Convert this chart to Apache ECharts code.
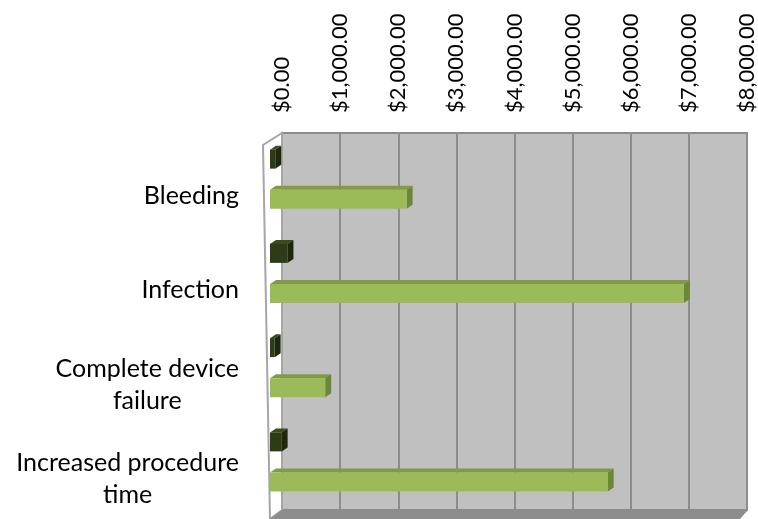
<!DOCTYPE html>
<html>
<head>
<meta charset="utf-8">
<title>Complication cost</title>
<script src="https://cdn.jsdelivr.net/npm/echarts@6/dist/echarts.min.js"></script>
<style>
    html, body { margin: 0; padding: 0; background: #fff; }
    #chart { width: 758px; height: 519px; }
</style>
</head>
<body>
<div id="chart"></div>
<script>
var categories = ['Bleeding', 'Infection', 'Complete device\nfailure', 'Increased procedure\ntime'];
var darkValues = [90, 300, 80, 200];
var lightValues = [2350, 7120, 950, 5810];
var tickLabels = ['$0.00', '$1,000.00', '$2,000.00', '$3,000.00', '$4,000.00',
    '$5,000.00', '$6,000.00', '$7,000.00', '$8,000.00'];

(function (window, echarts) {
    var GRID = { left: 282, top: 133, right: 10, bottom: 9 };
    var W = 758, H = 519;
    // front plane is shifted against the back wall
    var FRONT_DX = -12;
    var FONT = 'Lato';
    var CAT_SIZE = 25;

    function toData(values) {
        return values.map(function (v, i) { return [v, i]; });
    }

    // pseudo 3d bar: front face + top + right side
    function barRenderer(shiftY, faceColor, topColor, sideColor) {
        return function (params, api) {
            var idx = api.value(1);
            var start = api.coord([0, idx]);
            var end = api.coord([api.value(0), idx]);
            var h = 19, dx = 6, dy = -4;
            var x0 = start[0] + FRONT_DX,
                x1 = end[0] + FRONT_DX;
            var y0 = start[1] + shiftY - h / 2,
                y1 = y0 + h;
            return {
                type: 'group',
                children: [
                    {
                        type: 'polygon',
                        shape: { points: [[x0, y0], [x0 + dx, y0 + dy], [x1 + dx, y0 + dy], [x1, y0]] },
                        style: { fill: topColor }
                    },
                    {
                        type: 'polygon',
                        shape: { points: [[x1, y0], [x1 + dx, y0 + dy], [x1 + dx, y1 + dy], [x1, y1]] },
                        style: { fill: sideColor }
                    },
                    {
                        type: 'rect',
                        shape: { x: x0, y: y0, width: x1 - x0, height: h },
                        style: { fill: faceColor }
                    }
                ]
            };
        };
    }

    function wallGraphics() {
        var right = W - GRID.right, bottom = H - GRID.bottom;
        return [
            {
                id: 'leftWall', type: 'polygon', z: 1,
                shape: { points: [[GRID.left, GRID.top], [GRID.left, bottom], [GRID.left - 12, H], [GRID.left - 19, GRID.top + 12]] },
                style: { fill: '#ffffff', stroke: '#a6a6a6', lineWidth: 2 }
            },
            {
                id: 'floor', type: 'polygon', z: 1,
                shape: { points: [[GRID.left, bottom], [right, bottom], [right - 8, H], [GRID.left - 12, H]] },
                style: { fill: '#8c8c8c' }
            }
        ];
    }

    // category labels: block right aligned, lines centred inside it
    function labelGraphics(chart) {
        var ctx = document.createElement('canvas').getContext('2d');
        ctx.font = CAT_SIZE + 'px ' + FONT;
        var rightEdge = 239;
        return categories.map(function (text, i) {
            var widest = 0;
            text.split('\n').forEach(function (line) {
                widest = Math.max(widest, ctx.measureText(line).width);
            });
            var y = chart.convertToPixel({ yAxisIndex: 0 }, i);
            return {
                id: 'cat' + i, type: 'text', z: 5,
                x: rightEdge - widest / 2,
                y: y + 16,
                style: {
                    text: text,
                    align: 'center',
                    verticalAlign: 'middle',
                    fontFamily: FONT,
                    fontSize: CAT_SIZE,
                    lineHeight: 32,
                    fill: '#000'
                }
            };
        });
    }

    var chart = echarts.init(document.getElementById('chart'));
    chart.setOption({
        animation: false,
        grid: {
            left: GRID.left,
            top: GRID.top,
            right: GRID.right,
            bottom: GRID.bottom,
            show: true,
            backgroundColor: '#c0c0c0',
            borderColor: '#8c8c8c',
            borderWidth: 2
        },
        xAxis: {
            type: 'value',
            position: 'top',
            min: 0,
            max: 8000,
            interval: 1000,
            axisLine: { show: false },
            axisTick: { show: false },
            splitLine: { lineStyle: { color: '#8c8c8c', width: 2 } },
            axisLabel: {
                rotate: -90,
                margin: 20,
                fontFamily: FONT,
                fontSize: 22,
                color: '#000',
                formatter: function (v) { return tickLabels[Math.round(v / 1000)]; }
            }
        },
        yAxis: {
            type: 'category',
            inverse: true,
            data: categories,
            axisLine: { show: false },
            axisTick: { show: false },
            axisLabel: { show: false }
        },
        graphic: wallGraphics(),
        series: [
            {
                type: 'custom',
                name: 'dark',
                z: 3,
                encode: { x: 0, y: 1 },
                data: toData(darkValues),
                renderItem: barRenderer(-21, '#2e3b17', '#3a4a1e', '#1e280c')
            },
            {
                type: 'custom',
                name: 'light',
                z: 3,
                encode: { x: 0, y: 1 },
                data: toData(lightValues),
                renderItem: barRenderer(19, '#9bbb59', '#7f9c45', '#6c873a')
            }
        ]
    });

    chart.setOption({ graphic: wallGraphics().concat(labelGraphics(chart)) });
})(window, echarts);
</script>
</body>
</html>
